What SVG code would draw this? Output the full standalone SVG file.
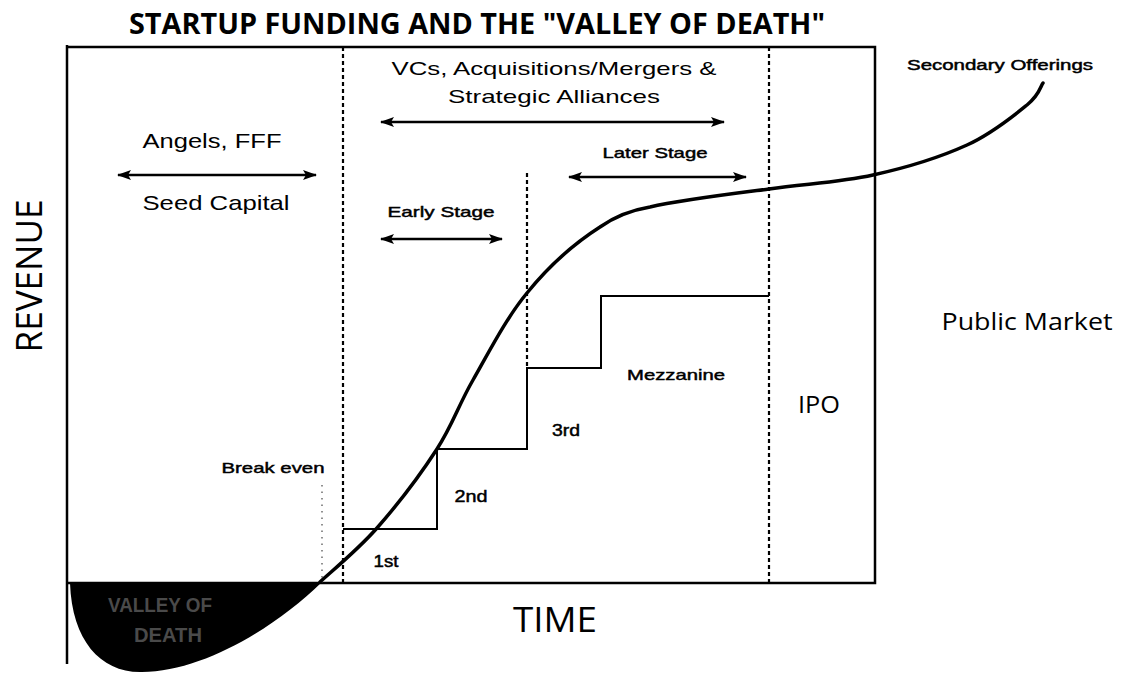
<svg xmlns="http://www.w3.org/2000/svg" width="1123" height="674" viewBox="0 0 1123 674">
<defs>
<marker id="ah" viewBox="0 0 14 10" refX="13" refY="5" markerWidth="14" markerHeight="10" markerUnits="userSpaceOnUse" orient="auto-start-reverse">
<path d="M0,0 L14,5 L0,10 L3,5 Z" fill="#000"/>
</marker>
<style>
.frame{fill:none;stroke:#000;stroke-width:2.5}
.dot{fill:none;stroke:#000;stroke-width:2.2;stroke-dasharray:4 3}
.fdot{fill:none;stroke:#555;stroke-width:1.3;stroke-dasharray:1.5 5}
.step{fill:none;stroke:#000;stroke-width:2}
.arr{fill:none;stroke:#000;stroke-width:2.5;marker-start:url(#ah);marker-end:url(#ah)}
.curve{fill:none;stroke:#000;stroke-width:3.5;stroke-linecap:round}
.lab{font-family:"Liberation Sans",Arial,sans-serif;fill:#000}
.med{font-family:"Liberation Sans",Arial,sans-serif;fill:#000;stroke:#000;stroke-width:0.45}
.hum{font-family:"Open Sans","DejaVu Sans",sans-serif;fill:#000}
</style>
</defs>
<rect width="1123" height="674" fill="#fff"/>

<g id="title">
<text x="477" y="34" class="hum" font-weight="700" font-size="28" text-anchor="middle" textLength="696" lengthAdjust="spacingAndGlyphs">STARTUP FUNDING AND THE "VALLEY OF DEATH"</text>
</g>

<g id="frame">
<path class="frame" d="M67,47 L875,47 L875,583 L67,583"/>
<path class="frame" d="M67,45 L67,664"/>
</g>

<g id="valley">
<path d="M70,583 C72,640 100,672 140,672 C200,673 275,628 321,583 Z" fill="#000"/>
<text x="160" y="612" class="lab" font-weight="700" font-size="21" style="fill:#4a4a4a" text-anchor="middle" textLength="104" lengthAdjust="spacingAndGlyphs">VALLEY OF</text>
<text x="168" y="642" class="lab" font-weight="700" font-size="21" style="fill:#4a4a4a" text-anchor="middle" textLength="68" lengthAdjust="spacingAndGlyphs">DEATH</text>
</g>

<g id="dividers">
<line class="dot" x1="343" y1="47" x2="343" y2="583"/>
<line class="dot" x1="527" y1="173" x2="527" y2="368"/>
<line class="dot" x1="769" y1="47" x2="769" y2="583"/>
<line class="fdot" x1="322" y1="485" x2="322" y2="583"/>
</g>

<g id="steps">
<path class="step" d="M343,529 L437,529 L437,449 L527,449 L527,368 L601,368 L601,296 L769,296"/>
</g>

<g id="connectors">
<line class="arr" x1="118" y1="175" x2="316" y2="175"/>
<line class="arr" x1="381" y1="122" x2="724" y2="122"/>
<line class="arr" x1="381" y1="239" x2="502" y2="239"/>
<line class="arr" x1="569" y1="177" x2="746" y2="177"/>
</g>

<g id="revenue-curve">
<path class="curve" d="M320,582 C329.5,573 357.5,550.2 377,528 C396.5,505.8 421,473.7 437,449 C453,424.3 458,406 473,380 C488,354 505.8,318.5 527,293 C548,267 575,243 600,227 C617,215 632,210 650,207 C680,200 730,194 769,189 C806.2,183.7 840,182.3 873,175 C906,167.7 941.3,156.7 967,145 C992.7,133.3 1014.3,115.3 1027,105 C1039.7,94.7 1040.3,86.7 1043,83"/>
</g>

<g id="labels">
<text x="212" y="148" class="lab" font-size="21" text-anchor="middle" textLength="139" lengthAdjust="spacingAndGlyphs">Angels, FFF</text>
<text x="216" y="210" class="lab" font-size="21" text-anchor="middle" textLength="147" lengthAdjust="spacingAndGlyphs">Seed Capital</text>
<text x="554" y="75" class="lab" font-size="19" text-anchor="middle" textLength="325" lengthAdjust="spacingAndGlyphs">VCs, Acquisitions/Mergers &amp;</text>
<text x="554" y="103" class="lab" font-size="19" text-anchor="middle" textLength="212" lengthAdjust="spacingAndGlyphs">Strategic Alliances</text>
<text x="655" y="158" class="med" font-size="15" text-anchor="middle" textLength="105" lengthAdjust="spacingAndGlyphs">Later Stage</text>
<text x="441" y="217" class="med" font-size="15" text-anchor="middle" textLength="107" lengthAdjust="spacingAndGlyphs">Early Stage</text>
<text x="1000" y="70" class="med" font-size="14" text-anchor="middle" textLength="186" lengthAdjust="spacingAndGlyphs">Secondary Offerings</text>
<text x="676" y="380" class="med" font-size="15" text-anchor="middle" textLength="98" lengthAdjust="spacingAndGlyphs">Mezzanine</text>
<text x="566" y="436" class="med" font-size="16" text-anchor="middle" textLength="28" lengthAdjust="spacingAndGlyphs">3rd</text>
<text x="471" y="502" class="med" font-size="16" text-anchor="middle" textLength="33" lengthAdjust="spacingAndGlyphs">2nd</text>
<text x="386" y="567" class="med" font-size="16" text-anchor="middle" textLength="25" lengthAdjust="spacingAndGlyphs">1st</text>
<text x="273" y="473" class="med" font-size="15" text-anchor="middle" textLength="103" lengthAdjust="spacingAndGlyphs">Break even</text>
<text x="819" y="413" class="hum" font-size="23" text-anchor="middle" textLength="42" lengthAdjust="spacingAndGlyphs">IPO</text>
<text x="1027" y="330" class="hum" font-size="23" text-anchor="middle" textLength="171" lengthAdjust="spacingAndGlyphs">Public Market</text>
<text x="555" y="632" class="hum" font-size="34" text-anchor="middle" textLength="84" lengthAdjust="spacingAndGlyphs">TIME</text>
<text transform="translate(42,276) rotate(-90)" class="hum" font-size="36" text-anchor="middle" textLength="153" lengthAdjust="spacingAndGlyphs">REVENUE</text>
</g>
</svg>
